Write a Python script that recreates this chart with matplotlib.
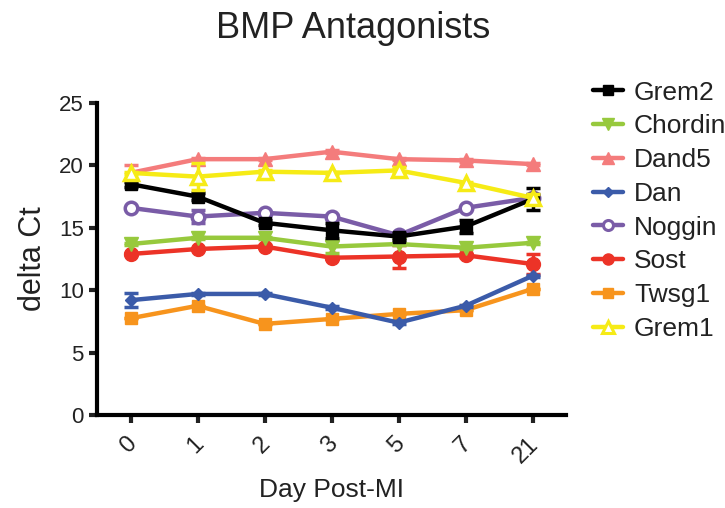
import matplotlib
matplotlib.use("Agg")
import matplotlib.pyplot as plt
import matplotlib.transforms as mtransforms
from matplotlib.lines import Line2D
import numpy as np

plt.rcParams['font.family'] = ['Liberation Sans', 'DejaVu Sans']

days = ["0", "1", "2", "3", "5", "7", "21"]
series_names = ["Grem2", "Chordin", "Dand5", "Dan", "Noggin", "Sost", "Twsg1", "Grem1"]

grem2 = [18.5, 17.5, 15.4, 14.8, 14.3, 15.1, 17.3]
grem2_err = [0.2, 0.3, 0.2, 0.6, 0.3, 0.5, 0.9]
chordin = [13.7, 14.2, 14.2, 13.5, 13.7, 13.4, 13.8]
chordin_err = [0.1, 0.1, 0.1, 0.5, 0.1, 0.1, 0.1]
dand5 = [19.4, 20.5, 20.5, 21.1, 20.5, 20.4, 20.1]
dand5_err = [0.6, 0.1, 0.1, 0.1, 0.1, 0.1, 0.1]
dan = [9.2, 9.7, 9.7, 8.6, 7.4, 8.75, 11.15]
dan_err = [0.55, 0.1, 0.1, 0.1, 0.1, 0.1, 0.1]
noggin = [16.6, 15.9, 16.2, 15.9, 14.4, 16.6, 17.4]
noggin_err = [0.1, 0.5, 0.1, 0.1, 0.1, 0.1, 0.3]
sost = [12.9, 13.3, 13.5, 12.6, 12.7, 12.8, 12.1]
sost_err = [0.1, 0.1, 0.1, 0.1, 0.9, 0.1, 0.8]
twsg1 = [7.75, 8.75, 7.3, 7.7, 8.1, 8.4, 10.1]
twsg1_err = [0.0, 0.0, 0.0, 0.0, 0.0, 0.0, 0.0]
grem1 = [19.4, 19.1, 19.5, 19.4, 19.6, 18.6, 17.4]
grem1_err = [0.1, 1.1, 0.1, 0.1, 0.3, 0.1, 0.3]

values = [grem2, chordin, dand5, dan, noggin, sost, twsg1, grem1]
errors = [grem2_err, chordin_err, dand5_err, dan_err, noggin_err, sost_err, twsg1_err, grem1_err]
colors = ["#000000", "#97c93d", "#f47c7c", "#3b5ba9", "#7a5ca7", "#ec3327", "#f7941d", "#f6eb16"]
markers = ["s", "v", "^", "D", "o", "o", "s", "^"]
msizes = [9, 10, 10, 6, 9, 10, 9, 10]
faces = [None, None, None, None, "white", None, None, "white"]
zorders = [9, 5, 3, 5, 4, 4, 4, 10]

fig = plt.figure(figsize=(7.25, 5.08), dpi=100)
ax = fig.add_axes([97/725, 1-415/508, (566-97)/725, (415-103)/508])

x = np.arange(len(days))
handles = []
for name, v, e, c, m, ms, fc, z in zip(series_names, values, errors, colors, markers, msizes, faces, zorders):
    kw = dict(color=c, marker=m, markersize=ms, linewidth=3.2, zorder=z,
              ecolor=c, elinewidth=2.5, capsize=5, capthick=2.5)
    mk = dict(color=c, marker=m, markersize=ms * 0.8, linewidth=3.2)
    if fc is not None:
        kw.update(markerfacecolor=fc, markeredgecolor=c, markeredgewidth=2.5)
        mk.update(markerfacecolor=fc, markeredgecolor=c, markeredgewidth=2.2)
    ax.errorbar(x, v, yerr=e, **kw)
    handles.append(Line2D([], [], solid_capstyle='round', **mk))

ax.set_xlim(-0.5, 6.5)
ax.set_ylim(0, 25)
ax.set_yticks([0, 5, 10, 15, 20, 25])
ax.set_xticks(x)
ax.set_xticklabels(days, rotation=45, ha='right', va='top', rotation_mode='anchor')
for s in ['top', 'right']:
    ax.spines[s].set_visible(False)
for s in ['left', 'bottom']:
    ax.spines[s].set_linewidth(3)
ax.tick_params(axis='both', width=3, length=6, labelsize=16, direction='out', colors='#222222', labelcolor='#222222')
ax.tick_params(axis='x', pad=7, labelsize=17)
offset = mtransforms.ScaledTranslation(-5/100, 0, fig.dpi_scale_trans)
for lbl in ax.get_xticklabels():
    lbl.set_transform(lbl.get_transform() + offset)

ax.set_xlabel("Day Post-MI", fontsize=19, color='#222222', labelpad=8)
ax.set_ylabel("delta Ct", fontsize=22, color='#222222', labelpad=8)
fig.text(353/725, 1-28/508, "BMP Antagonists", fontsize=26, ha='center', va='center', color='#222222')

leg = fig.legend(handles=handles, labels=series_names, loc='upper left',
                 bbox_to_anchor=(582/725, 1-70/508), frameon=False, fontsize=19,
                 handlelength=1.15, handletextpad=0.42, labelspacing=0.37, borderaxespad=0)
for t in leg.get_texts():
    t.set_color('#222222')

fig.savefig("out.png", dpi=100)
